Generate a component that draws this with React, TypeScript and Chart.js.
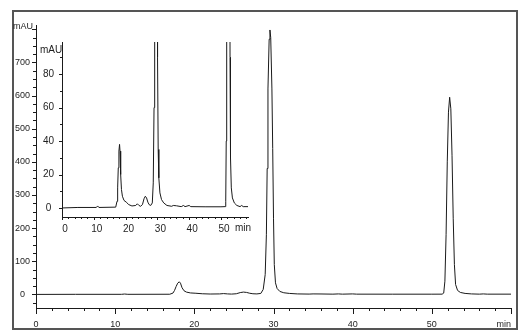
import React, { useEffect, useRef } from 'react';
import { Chart, registerables } from 'chart.js';

Chart.register(...registerables);

// ---- data (retention time in min, absorbance in mAU) ----
const retentionTimes = [
  0, 5, 10.8, 11.2, 11.6, 16.9, 17.3, 17.5, 17.7, 17.9, 18.1, 18.25, 18.45, 18.7, 19.0, 19.5,
  20.2, 21.0, 22.0, 23.2, 23.7, 24.2, 24.7, 25.3, 25.8, 26.2, 26.6, 27.0, 27.4, 27.9, 28.4,
  28.7, 28.95, 29.1, 29.2, 29.3, 29.45, 29.55, 29.65, 29.8, 29.9, 30.0, 30.1, 30.25, 30.45,
  30.8, 31.3, 32.0, 33.0, 34.5, 35.0, 36.0, 37.5, 38.2, 38.7, 40.0, 40.5, 45, 50, 51.3, 51.5,
  51.65, 51.8, 51.95, 52.1, 52.25, 52.4, 52.55, 52.7, 52.85, 53.0, 53.25, 53.6, 54.2, 55.0,
  56.0, 56.5, 57.0, 60,
];
const absorbance = [
  0, 0.3, 0.3, 1.2, 0.3, 0.5, 4, 12, 24, 34, 38, 34, 20, 11, 7, 4.5,
  3.5, 2, 1.2, 1.5, 2.5, 1.5, 1, 2, 5.5, 7, 6, 3.5, 2, 1.5, 3,
  15, 60, 180, 380, 620, 770, 798, 775, 620, 440, 230, 90, 35, 18,
  9, 5, 3, 1.5, 1, 1.5, 1.3, 0.8, 1.5, 0.8, 1.5, 0.8, 0.7, 0.7, 0.8, 4,
  40, 180, 400, 550, 595, 560, 420, 230, 90, 30, 12, 6, 3, 1.5,
  0.8, 1.5, 0.8, 0.8,
];

const mainYTickValues = [0, 100, 200, 300, 400, 500, 600, 700];
const mainXTickValues = [0, 10, 20, 30, 40, 50];
const insetYTickValues = [0, 20, 40, 60, 80];
const insetXTickValues = [0, 10, 20, 30, 40, 50];
const yUnitLabel = 'mAU';
const xUnitLabel = 'min';

// ---- styling ----
const FONT = '"Liberation Sans", Arial, Helvetica, sans-serif';
const AXIS = '#1a1a1a';
const TEXT = '#1e1e1e';
const LINE = '#1a1a1a';

const W = 527;
const H = 336;

type Decor = {
  xMinor: number; xMajor: number; xMajorLen: number; xMinorLen: number;
  yMinor: number; yMajor: number; yMajorLen: number; yMinorLen: number;
  fontSize: number;
  yUnitDx: number; yUnitDy: number;
  xUnitDx: number; xUnitDy: number;
};

function decorPlugin(d: Decor) {
  return {
    id: 'decor',
    afterDraw(chart: any) {
      const { ctx, chartArea: a } = chart;
      const xs = chart.scales.x;
      const ys = chart.scales.y;
      ctx.save();
      ctx.strokeStyle = AXIS;
      ctx.lineWidth = 1;
      ctx.beginPath();
      const isMajor = (v: number, step: number) => Math.abs(v / step - Math.round(v / step)) < 1e-6;
      for (let i = 0; ; i++) {
        const v = xs.min + i * d.xMinor;
        if (v > xs.max + 1e-6) break;
        const px = Math.round(xs.getPixelForValue(v)) + 0.5;
        const len = isMajor(v, d.xMajor) ? d.xMajorLen : d.xMinorLen;
        ctx.moveTo(px, a.bottom);
        ctx.lineTo(px, a.bottom + len);
      }
      const y0 = Math.ceil(ys.min / d.yMinor) * d.yMinor;
      for (let i = 0; ; i++) {
        const v = y0 + i * d.yMinor;
        if (v > ys.max + 1e-6) break;
        const py = Math.round(ys.getPixelForValue(v)) + 0.5;
        const len = isMajor(v, d.yMajor) ? d.yMajorLen : d.yMinorLen;
        ctx.moveTo(a.left, py);
        ctx.lineTo(a.left - len, py);
      }
      ctx.stroke();
      ctx.fillStyle = TEXT;
      ctx.font = `${d.fontSize}px ${FONT}`;
      ctx.textAlign = 'center';
      ctx.textBaseline = 'middle';
      ctx.fillText(yUnitLabel, a.left + d.yUnitDx, a.top + d.yUnitDy);
      ctx.textAlign = 'right';
      ctx.textBaseline = 'alphabetic';
      ctx.fillText(xUnitLabel, a.right + d.xUnitDx, a.bottom + d.xUnitDy);
      ctx.restore();
    },
  };
}

function buildConfig(opts: {
  xMax: number; yMin: number; yMax: number;
  yTicks: number[]; xTicks: number[];
  padTop: number; padRight: number; yWidth: number; xHeight: number;
  fontSize: number;
  xTickLen: number; xPad: number; xLabelOffset: number; yTickLen: number; yPad: number;
  decor: Decor;
}): any {
  const points = retentionTimes.map((t, i) => ({ x: t, y: absorbance[i] }));
  return {
    type: 'line',
    data: {
      datasets: [
        {
          data: points,
          borderColor: LINE,
          borderWidth: 1,
          pointRadius: 0,
          tension: 0,
          fill: false,
        },
      ],
    },
    options: {
      responsive: false,
      maintainAspectRatio: false,
      animation: false,
      events: [],
      layout: { padding: { top: opts.padTop, right: opts.padRight, bottom: 0, left: 0 } },
      plugins: {
        legend: { display: false },
        tooltip: { enabled: false },
        title: { display: false },
      },
      scales: {
        x: {
          type: 'linear',
          min: 0,
          max: opts.xMax,
          afterBuildTicks: (s: any) => {
            s.ticks = opts.xTicks.map((v) => ({ value: v }));
          },
          afterFit: (s: any) => {
            s.height = opts.xHeight;
          },
          grid: { display: false, drawTicks: true, tickLength: opts.xTickLen },
          border: { display: true, color: AXIS, width: 1 },
          ticks: {
            color: TEXT,
            font: { family: FONT, size: opts.fontSize },
            padding: opts.xPad,
            labelOffset: opts.xLabelOffset,
            maxRotation: 0,
            autoSkip: false,
            callback: (v: any) => String(v),
          },
        },
        y: {
          type: 'linear',
          min: opts.yMin,
          max: opts.yMax,
          afterBuildTicks: (s: any) => {
            s.ticks = opts.yTicks.map((v) => ({ value: v }));
          },
          afterFit: (s: any) => {
            s.width = opts.yWidth;
          },
          grid: { display: false, drawTicks: true, tickLength: opts.yTickLen },
          border: { display: true, color: AXIS, width: 1 },
          ticks: {
            color: TEXT,
            font: { family: FONT, size: opts.fontSize },
            padding: opts.yPad,
            crossAlign: 'center',
            autoSkip: false,
            callback: (v: any) => String(v),
          },
        },
      },
    },
    plugins: [decorPlugin(opts.decor)],
  };
}

// inset canvas placement on the page
const INSET_LEFT = 30;
const INSET_TOP = 30;
const INSET_W = 240;
const INSET_H = 210;

export default function App() {
  const mainRef = useRef<HTMLCanvasElement | null>(null);
  const insetRef = useRef<HTMLCanvasElement | null>(null);

  useEffect(() => {
    if (!mainRef.current || !insetRef.current) return;
    const main = new Chart(
      mainRef.current,
      buildConfig({
        xMax: 60,
        yMin: -41,
        yMax: 813,
        yTicks: mainYTickValues,
        xTicks: mainXTickValues,
        padTop: 25,
        padRight: 16,
        yWidth: 36,
        xHeight: 28,
        fontSize: 9,
        xTickLen: 7,
        xPad: 4,
        xLabelOffset: 0,
        yTickLen: 3,
        yPad: 3,
        decor: {
          xMinor: 2, xMajor: 10, xMajorLen: 6, xMinorLen: 3,
          yMinor: 25, yMajor: 100, yMajorLen: 4, yMinorLen: 3,
          fontSize: 9,
          yUnitDx: -13, yUnitDy: 2,
          xUnitDx: 0, xUnitDy: 19,
        },
      })
    );
    const inset = new Chart(
      insetRef.current,
      buildConfig({
        xMax: 58.5,
        yMin: -5.4,
        yMax: 99.2,
        yTicks: insetYTickValues,
        xTicks: insetXTickValues,
        padTop: 12,
        padRight: 22,
        yWidth: 32,
        xHeight: 23,
        fontSize: 10,
        xTickLen: 3,
        xPad: 3,
        xLabelOffset: 3,
        yTickLen: 3,
        yPad: 5,
        decor: {
          xMinor: 2, xMajor: 10, xMajorLen: 3, xMinorLen: 2,
          yMinor: 10, yMajor: 20, yMajorLen: 3, yMinorLen: 2,
          fontSize: 10,
          yUnitDx: -11, yUnitDy: 8,
          xUnitDx: 3, xUnitDy: 14,
        },
      })
    );
    return () => {
      main.destroy();
      inset.destroy();
    };
  }, []);

  return (
    <div style={{ position: 'absolute', left: 0, top: 0, width: W, height: H, background: '#ffffff' }}>
      <div
        style={{
          position: 'absolute',
          left: 12,
          top: 10,
          width: 506,
          height: 320,
          boxSizing: 'border-box',
          border: '2px solid #555555',
        }}
      />
      <canvas
        ref={mainRef}
        width={W}
        height={H}
        style={{ position: 'absolute', left: 0, top: 0, width: W, height: H }}
      />
      <canvas
        ref={insetRef}
        width={INSET_W}
        height={INSET_H}
        style={{ position: 'absolute', left: INSET_LEFT, top: INSET_TOP, width: INSET_W, height: INSET_H }}
      />
    </div>
  );
}
